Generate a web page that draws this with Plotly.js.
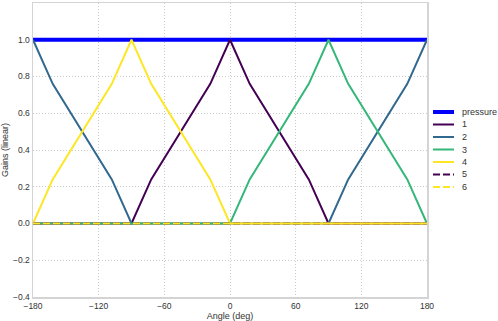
<!DOCTYPE html>
<html>
<head>
<meta charset="utf-8">
<script src="https://cdn.plot.ly/plotly-3.0.1.min.js"></script>
<style>
  html, body { margin: 0; padding: 0; background: #fff; }
  #chart { width: 498px; height: 321px; }
</style>
</head>
<body>
<div id="chart"></div>
<script>
// series names, colours and dash styles
const seriesNames = ['pressure', '1', '2', '3', '4', '5', '6'];
const seriesColors = ['#0000ff', '#440154', '#31688e', '#35b779', '#fde725', '#440154', '#fde725'];
const seriesDash = ['solid', 'solid', 'solid', 'solid', 'solid', '7px,3px', '7px,3px'];
const seriesWidth = [4, 2, 2, 2, 2, 2, 2];

// gain vertices (angle in deg, gain linear)
const pressureX = [-180, 180];
const pressureY = [1, 1];
const g1X = [-180, -90, -72, -18, 0, 18, 72, 90, 180];
const g1Y = [0, 0, 0.24, 0.76, 1, 0.76, 0.24, 0, 0];
const g2X = [-180, -162, -108, -90, 90, 108, 162, 180];
const g2Y = [1, 0.76, 0.24, 0, 0, 0.24, 0.76, 1];
const g3X = [-180, 0, 18, 72, 90, 108, 162, 180];
const g3Y = [0, 0, 0.24, 0.76, 1, 0.76, 0.24, 0];
const g4X = [-180, -162, -108, -90, -72, -18, 0, 180];
const g4Y = [0, 0.24, 0.76, 1, 0.76, 0.24, 0, 0];
const g5X = [-180, 180];
const g5Y = [0, 0];
const g6X = [-180, 180];
const g6Y = [0, 0];

const xs = [pressureX, g1X, g2X, g3X, g4X, g5X, g6X];
const ys = [pressureY, g1Y, g2Y, g3Y, g4Y, g5Y, g6Y];

const traces = seriesNames.map((name, i) => ({
    x: xs[i], y: ys[i], mode: 'lines', name: name,
    line: { color: seriesColors[i], width: seriesWidth[i], dash: seriesDash[i] },
    showlegend: false, hoverinfo: 'skip'
}));

// plot area in pixels, used to place the hand-built legend
const L = 33, R = 427, T = 3, B = 297;
const px = p => (p - L) / (R - L);
const py = p => (B - p) / (B - T);

const shapes = [];
const annotations = [];
seriesNames.forEach((name, i) => {
    const yy = py(112 + i * 12.5);
    shapes.push({
        type: 'line', xref: 'paper', yref: 'paper',
        x0: px(433), x1: px(454), y0: yy, y1: yy,
        line: { color: seriesColors[i], width: seriesWidth[i], dash: seriesDash[i] }
    });
    annotations.push({
        xref: 'paper', yref: 'paper', x: px(460), y: yy,
        xanchor: 'left', yanchor: 'middle', showarrow: false,
        text: name, font: { size: 9, color: '#333' }
    });
});

const layout = {
    width: 498, height: 321,
    margin: { l: L, r: 498 - R, t: T, b: 321 - B },
    paper_bgcolor: '#fff', plot_bgcolor: '#fff',
    font: { family: 'Liberation Sans, Arial, sans-serif', size: 9, color: '#333' },
    showlegend: false,
    xaxis: {
        range: [-180, 180], tickvals: [-180, -120, -60, 0, 60, 120, 180],
        ticks: '', tickfont: { size: 8.5 },
        showgrid: true, gridcolor: '#cccccc', griddash: '1px,2px', gridwidth: 1,
        zeroline: false, showline: true, linecolor: '#d4d4d4', linewidth: 1.5, mirror: true,
        title: { text: 'Angle (deg)', font: { size: 9 }, standoff: 3 }
    },
    yaxis: {
        range: [-0.4, 1.2], dtick: 0.2, tick0: 0, tickformat: '.1f',
        ticks: '', tickfont: { size: 8.5 },
        showgrid: true, gridcolor: '#cccccc', griddash: '1px,2px', gridwidth: 1,
        zeroline: false, showline: true, linecolor: '#d4d4d4', linewidth: 1.5, mirror: true,
        title: { text: 'Gains (linear)', font: { size: 9 }, standoff: 6 }
    },
    shapes: shapes,
    annotations: annotations
};

Plotly.newPlot('chart', traces, layout, { displayModeBar: false, staticPlot: true });
</script>
</body>
</html>
